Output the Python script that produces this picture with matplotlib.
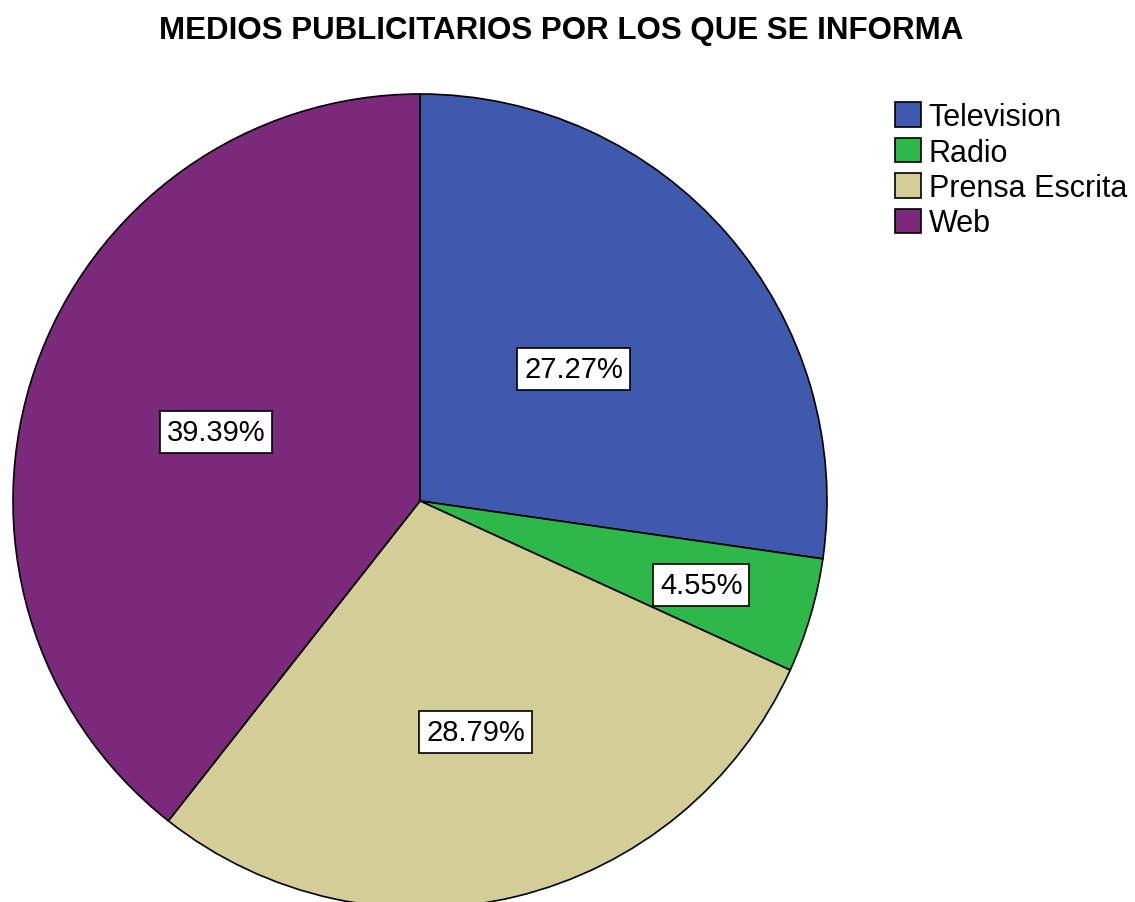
import matplotlib
matplotlib.use("Agg")
import matplotlib.pyplot as plt
import numpy as np
from matplotlib.patches import Patch

plt.rcParams['font.family'] = ['Liberation Sans', 'DejaVu Sans']

title = "MEDIOS PUBLICITARIOS POR LOS QUE SE INFORMA"
categories = ["Television", "Radio", "Prensa Escrita", "Web"]
values = [27.27, 4.55, 28.79, 39.39]
colors = ["#3F59AD", "#2FB84A", "#D3CE98", "#7B297B"]
label_dist = [0.50, 0.72, 0.58, 0.53]

W, H = 1135, 903
fig = plt.figure(figsize=(W/100, H/100), dpi=100)
cx, cy, r = 420, 502, 407
ax = fig.add_axes([(cx - r)/W, (H - cy - r)/H, 2*r/W, 2*r/H])
wedges, _ = ax.pie(values, colors=colors, startangle=90, counterclock=False,
                   radius=1, wedgeprops=dict(edgecolor='black', linewidth=1.2))
ax.set_xlim(-1, 1)
ax.set_ylim(-1, 1)
ax.set_aspect('equal')
ax.axis('off')

for w, v, d in zip(wedges, values, label_dist):
    ang = np.deg2rad((w.theta1 + w.theta2) / 2)
    ax.text(d*np.cos(ang), d*np.sin(ang) - 0.003, f"{v:.2f}%", ha='center', va='center',
            fontsize=21, bbox=dict(boxstyle='square,pad=0.24', facecolor='white',
                                   edgecolor='black', linewidth=1.2))

fig.text(561/W, 1 - 31/H, title, ha='center', va='center', fontsize=22.5, fontweight='bold')

handles = [Patch(facecolor=c, edgecolor='black', linewidth=1.2) for c in colors]
leg = fig.legend(handles, categories, loc='upper left', bbox_to_anchor=(895/W, 1 - 103/H),
                 frameon=False, fontsize=22, handlelength=0.85, handleheight=0.85,
                 handletextpad=0.25, labelspacing=0.18, borderpad=0, borderaxespad=0)

fig.savefig("out.png", dpi=100)
